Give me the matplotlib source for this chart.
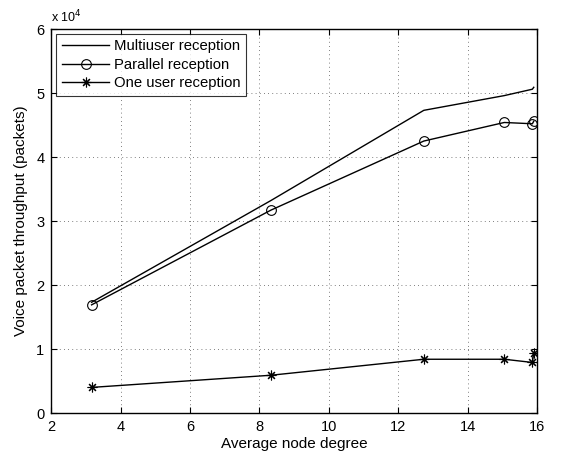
import matplotlib
matplotlib.use('Agg')
import matplotlib.pyplot as plt
import numpy as np

plt.rcParams['font.family'] = ['Liberation Sans', 'DejaVu Sans']

# Average node degree for each simulated scenario
degree = [3.16, 8.33, 12.74, 15.06, 15.87, 15.91]

# Voice packet throughput (packets)
multiuser = [1.73e4, 3.32e4, 4.73e4, 4.96e4, 5.06e4, 5.09e4]
parallel = [1.69e4, 3.17e4, 4.25e4, 4.54e4, 4.52e4, 4.56e4]
one_user = [0.40e4, 0.59e4, 0.84e4, 0.84e4, 0.79e4, 0.94e4]

labels = ['Multiuser reception', 'Parallel reception', 'One user reception']
x_ticks = [2, 4, 6, 8, 10, 12, 14, 16]
y_ticks = [0, 1e4, 2e4, 3e4, 4e4, 5e4, 6e4]

fig = plt.figure(figsize=(5.61, 4.54), dpi=100)
ax = fig.add_axes([0.0915, 0.0903, 0.8655, 0.8457])

ax.plot(degree, multiuser, color='black', lw=1.0, label=labels[0])
ax.plot(degree, parallel, color='black', lw=1.0, marker='o', markersize=7,
        markerfacecolor='none', markeredgewidth=0.8, label=labels[1])
ax.plot(degree, one_user, color='black', lw=1.0, marker=(8, 2, 0), markersize=7,
        markeredgewidth=0.8, label=labels[2])

ax.set_xlim(2, 16)
ax.set_ylim(0, 6e4)
ax.set_xticks(x_ticks)
ax.set_yticks(y_ticks)
ax.set_xticklabels([str(t) for t in x_ticks])
ax.set_yticklabels([str(int(t / 1e4)) for t in y_ticks])
ax.tick_params(direction='in', length=4, labelsize=10.5, top=True, right=True, pad=5)
ax.grid(True, linestyle=(0, (1, 4)), color='#555555', lw=0.6)
for s in ax.spines.values():
    s.set_linewidth(1.0)

ax.text(0.0, 1.01, r'x 10$^4$', transform=ax.transAxes, fontsize=9, ha='left', va='bottom')

ax.set_xlabel('Average node degree', fontsize=11, labelpad=2)
ax.set_ylabel('Voice packet throughput (packets)', fontsize=11, labelpad=6)

leg = ax.legend(loc='upper left', fontsize=10.7, frameon=True, fancybox=False,
                edgecolor='black', borderaxespad=0.3, handlelength=3.2,
                labelspacing=0.3, borderpad=0.4, handletextpad=0.3)
leg.get_frame().set_linewidth(0.8)

fig.savefig('out.png', dpi=100)
